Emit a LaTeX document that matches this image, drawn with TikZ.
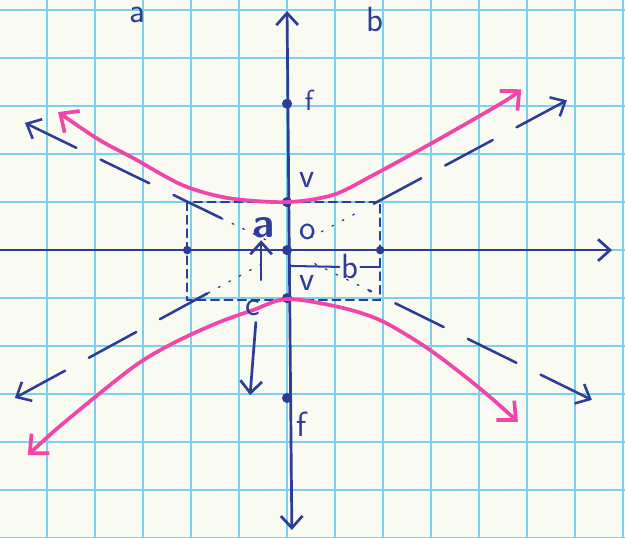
\documentclass[tikz,border=0pt]{standalone}
\usepackage{tikz}
\usetikzlibrary{arrows.meta,calc}
\definecolor{ink}{RGB}{45,60,150}
\definecolor{hot}{RGB}{240,70,170}
\definecolor{paper}{RGB}{249,250,241}
\definecolor{gridc}{RGB}{125,208,232}
\tikzset{dot/.style={circle,fill=ink,inner sep=0pt,minimum size=6pt},
  lbl/.style={text=ink,font=\sffamily\huge,inner sep=1pt},
  barb/.style={-{Straight Barb[length=2.5mm,width=4.5mm]}}}

\begin{document}
\begin{tikzpicture}[line cap=round,
  axis/.style={draw=ink,line width=1.6pt},
  asym/.style={draw=ink,line width=1.5pt,dash pattern=on 32pt off 16pt},
  faint/.style={draw=ink,line width=0.8pt,dash pattern=on 1pt off 6pt},
  branch/.style={draw=hot,line width=2.2pt,{Straight Barb[length=3mm,width=5.5mm]}-{Straight Barb[length=3mm,width=5.5mm]}},
  box/.style={draw=ink,line width=0.9pt,dash pattern=on 5pt off 3pt}]
\useasboundingbox (-5.98,-5.98) rectangle (7.04,5.21);
\clip (-5.98,-5.98) rectangle (7.04,5.21);
\fill[paper] (-6,-6) rectangle (8,6);
\draw[gridc,line width=1.5pt] (-6,-6) grid (8,6);

\coordinate (ytop) at (0,4.98);
\coordinate (ybot) at (0.1,-5.83);
\coordinate (xl) at (-6.1,0);
\coordinate (xr) at (6.77,0);
\coordinate (ul) at (-5.46,2.65);
\coordinate (ur) at (5.83,3.12);
\coordinate (ll) at (-5.67,-3.08);
\coordinate (lr) at (6.35,-3.12);

\draw[box] (-2.08,1) rectangle (1.94,-1.04);
\draw[axis,{Straight Barb[length=2.5mm,width=4.5mm]}-{Straight Barb[length=2.5mm,width=4.5mm]}] (ybot) -- (ytop);
\draw[axis,barb] (xl) -- (xr);

\node[dot] (o) at (0,0) {};
\node[dot] (vt) at (0,1) {};
\node[dot] (vb) at (0,-1) {};
\node[dot] (ft) at (0,3.05) {};
\node[dot] (fb) at (0,-3.08) {};
\node[dot,minimum size=5pt] (bl) at (-2.08,0) {};
\node[dot,minimum size=5pt] (br) at (1.94,0) {};

\foreach \e/\k in {ul/0.25,ur/0.24,ll/0.29,lr/0.27}{
  \coordinate (\e0) at ($(o)!\k!(\e)$);
  \draw[asym,{Straight Barb[length=2.5mm,width=4.5mm]}-] (\e) -- (\e0);
  \draw[faint] (\e0) -- ($(o)!0.08!(\e)$);
}

\draw[branch] plot[smooth] coordinates {(-4.77,2.875) (-3.9,2.29) (-3.21,1.92)
  (-2.17,1.35) (-1.2,1.08) (0,1) (0.96,1.15) (1.79,1.56) (3.125,2.29) (4.5,3.08) (4.88,3.35)};
\draw[branch] plot[smooth] coordinates {(-5.4,-4.27) (-4.58,-3.54) (-3.21,-2.44)
  (-2.375,-1.94) (-1.46,-1.52) (-0.71,-1.25) (0,-1.02) (1.1,-1.19) (1.94,-1.46)
  (2.83,-1.98) (3.54,-2.5) (4.23,-3.06) (4.81,-3.58)};

\node[lbl,font=\sffamily\LARGE] (lf1) at (0.46,3.12) {f};
\node[lbl] (lv1) at (0.42,1.46) {v};
\node[lbl] (lv2) at (0.42,-0.69) {v};
\node[lbl,font=\sffamily\bfseries\Huge] (la) at (-0.5,0.46) {a};
\node[lbl] (lo) at (0.44,0.37) {o};
\node[lbl] (lb) at (1.31,-0.35) {b};
\node[lbl] (lc) at (-0.71,-1.2) {c};
\node[lbl] (lf2) at (0.31,-3.62) {f};
\node[lbl,anchor=north] (ta) at (-3.12,5.1) {a};
\node[lbl,anchor=north] (tb) at (1.83,5.1) {b};

\coordinate (a0) at (-0.54,-0.62);
\coordinate (c1) at (-0.77,-3.02);
\draw[ink,line width=1.6pt,barb] (a0) -- (la.south -| a0);
\draw[ink,line width=1.6pt,barb] (lc.south) ++(0.06,-0.1) -- (c1);
\draw[ink,line width=1.2pt] (0.06,-0.33) -- (lb.west);
\draw[ink,line width=1.2pt] (lb.east) -- (br |- lb);
\end{tikzpicture}
\end{document}
